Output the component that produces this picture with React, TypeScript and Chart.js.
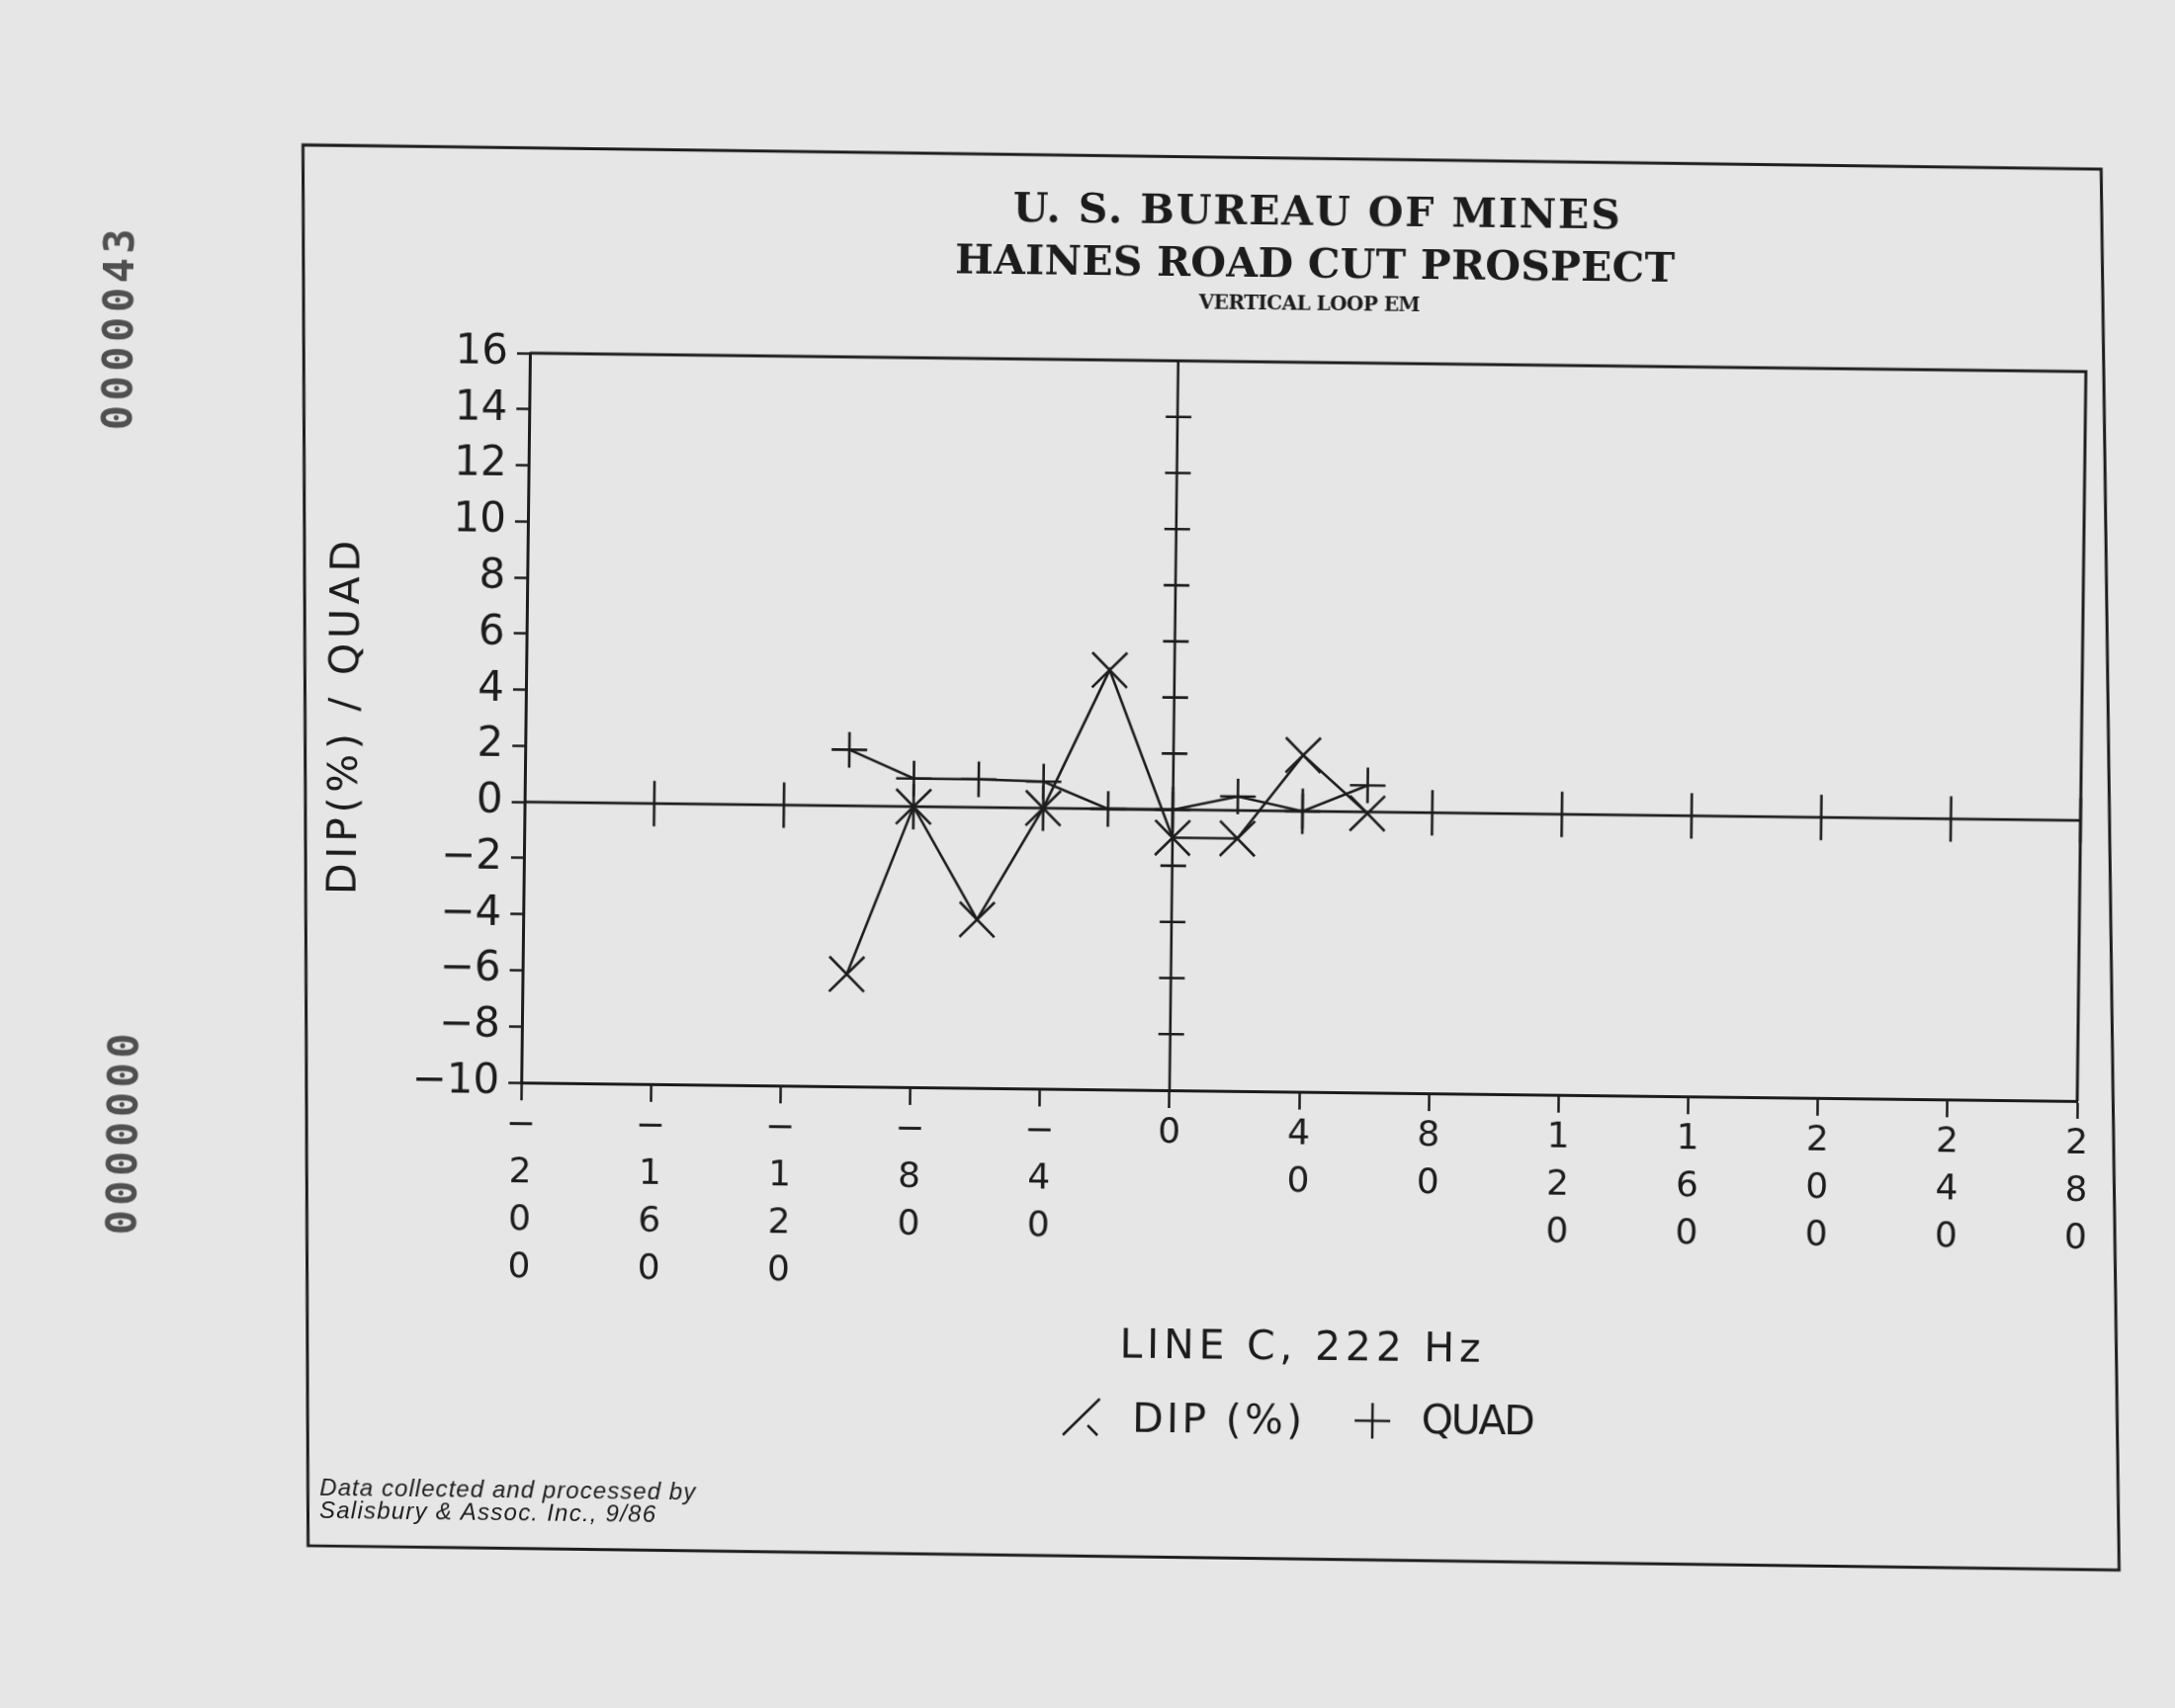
import React, { useEffect, useRef } from 'react';
import { Chart, registerables } from 'chart.js';

Chart.register(...registerables);

// ---------------- data ----------------
const stations = [-100, -80, -60, -40, -20, 0, 20, 40, 60];
const dipValues = [-6.0, 0.0, -4.0, 0.0, 4.95, -1.0, -1.0, 2.0, -0.05];
const quadValues = [2.0, 1.0, 1.0, 0.95, 0.0, 0.0, 0.5, 0.0, 0.95];
const xTickValues = [-200, -160, -120, -80, -40, 0, 40, 80, 120, 160, 200, 240, 280];
const yTickValues = [-10, -8, -6, -4, -2, 0, 2, 4, 6, 8, 10, 12, 14, 16];

const titleLines = ['U. S. BUREAU OF MINES', 'HAINES ROAD CUT PROSPECT'];
const subtitle = 'VERTICAL LOOP EM';
const yAxisTitle = 'DIP(%) / QUAD';
const xAxisTitle = 'LINE C, 222 Hz';
const legendDip = 'DIP (%)';
const legendQuad = 'QUAD';
const footnoteLines = ['Data collected and processed by', 'Salisbury & Assoc. Inc., 9/86'];
const marginIds = ['0000043', '0000000'];

// ---------------- style ----------------
const INK = '#1c1c1c';
const PAPER = '#e6e6e6';
const PLOT = '"DejaVu Sans", "Liberation Sans", sans-serif';
const SANS = '"Liberation Sans", Arial, sans-serif';
const SERIF = '"DejaVu Serif", "Liberation Serif", serif';

function fitText(
  ctx: CanvasRenderingContext2D,
  text: string,
  cx: number,
  y: number,
  font: string,
  width: number
) {
  ctx.save();
  ctx.font = font;
  (ctx as any).letterSpacing = '0px';
  const w = ctx.measureText(text).width;
  const n = Array.from(text).length;
  const ls = n > 1 ? (width - w) / (n - 1) : 0;
  (ctx as any).letterSpacing = ls + 'px';
  ctx.textAlign = 'left';
  ctx.fillText(text, cx - width / 2, y);
  ctx.restore();
}

const paperPlugin = {
  id: 'paperDecor',
  afterDraw(chart: any) {
    const { ctx, chartArea: a, scales } = chart;
    const xs = scales.x;
    const ys = scales.y;
    ctx.save();
    ctx.strokeStyle = INK;
    ctx.fillStyle = INK;
    ctx.lineCap = 'butt';

    // plot frame: top and right
    ctx.lineWidth = 3;
    ctx.beginPath();
    ctx.moveTo(a.left, a.top);
    ctx.lineTo(a.right, a.top);
    ctx.lineTo(a.right, a.bottom);
    ctx.stroke();

    // zero line with crossing ticks
    const y0 = ys.getPixelForValue(0);
    ctx.lineWidth = 2.6;
    ctx.beginPath();
    ctx.moveTo(a.left, y0);
    ctx.lineTo(a.right, y0);
    xTickValues.forEach((v) => {
      if (v === xTickValues[0]) return;
      const px = xs.getPixelForValue(v);
      ctx.moveTo(px, y0 - 23);
      ctx.lineTo(px, y0 + 23);
    });
    ctx.stroke();

    // central vertical axis at x = 0 with crossing ticks
    const x0 = xs.getPixelForValue(0);
    ctx.beginPath();
    ctx.moveTo(x0, a.top);
    ctx.lineTo(x0, a.bottom);
    yTickValues.forEach((v) => {
      if (v === yTickValues[0] || v === yTickValues[yTickValues.length - 1] || v === 0) return;
      const py = ys.getPixelForValue(v);
      ctx.moveTo(x0 - 12, py);
      ctx.lineTo(x0 + 14, py);
    });
    ctx.stroke();

    // outer page frame (slightly skewed like the scan)
    ctx.lineWidth = 3;
    ctx.beginPath();
    ctx.moveTo(298, 156);
    ctx.lineTo(2117, 159);
    ctx.lineTo(2152, 1576);
    ctx.lineTo(320, 1573);
    ctx.closePath();
    ctx.stroke();

    // titles
    ctx.textBaseline = 'alphabetic';
    fitText(ctx, titleLines[0], 1324, 225, `bold 41px ${SERIF}`, 614);
    fitText(ctx, titleLines[1], 1323, 278, `bold 41px ${SERIF}`, 728);
    fitText(ctx, subtitle, 1318, 311, `bold 20px ${SERIF}`, 224);

    // y axis title (rotated)
    ctx.save();
    ctx.translate(360, 735);
    ctx.rotate(-Math.PI / 2);
    fitText(ctx, yAxisTitle, 0, 0, `normal 41px ${PLOT}`, 358);
    ctx.restore();

    // x axis title
    fitText(ctx, xAxisTitle, 1321, 1373, `normal 41px ${PLOT}`, 365);

    // legend
    ctx.lineWidth = 2.5;
    ctx.beginPath();
    ctx.moveTo(1082, 1452);
    ctx.lineTo(1119, 1415);
    ctx.moveTo(1107, 1442);
    ctx.lineTo(1117, 1452);
    ctx.stroke();
    fitText(ctx, legendDip, 1152 + 86, 1448, `normal 41px ${PLOT}`, 172);
    ctx.beginPath();
    ctx.moveTo(1377, 1434);
    ctx.lineTo(1413, 1434);
    ctx.moveTo(1395, 1416);
    ctx.lineTo(1395, 1452);
    ctx.stroke();
    fitText(ctx, legendQuad, 1444 + 58, 1446, `normal 41px ${PLOT}`, 115);

    // footnote
    fitText(ctx, footnoteLines[0], 331 + 190, 1522, `italic 24px ${SANS}`, 380);
    fitText(ctx, footnoteLines[1], 331 + 170, 1545, `italic 24px ${SANS}`, 340);

    // margin ids (rotated, reading bottom to top)
    ctx.fillStyle = '#505050';
    ctx.save();
    ctx.translate(128, 345);
    ctx.rotate(-Math.PI / 2);
    fitText(ctx, marginIds[0], 0, 0, `bold 42px "DejaVu Sans Mono", monospace`, 204);
    ctx.restore();
    ctx.save();
    ctx.translate(142, 1159);
    ctx.rotate(-Math.PI / 2);
    fitText(ctx, marginIds[1], 0, 0, `bold 42px "DejaVu Sans Mono", monospace`, 204);
    ctx.restore();

    ctx.restore();
  },
};

function xLabel(v: number): string[] {
  const s = v < 0 ? '\u2212' + Math.abs(v) : String(v);
  return Array.from(s);
}

function yLabel(v: number): string {
  return v < 0 ? '\u2212' + Math.abs(v) : String(v);
}

export default function App() {
  const canvasRef = useRef<HTMLCanvasElement | null>(null);

  useEffect(() => {
    document.body.style.margin = '0';
    document.body.style.background = PAPER;
    document.documentElement.style.background = PAPER;
    const canvas = canvasRef.current;
    if (!canvas) return;
    const chart = new Chart(canvas, {
      type: 'scatter',
      data: {
        datasets: [
          {
            label: legendDip,
            data: stations.map((s, i) => ({ x: s, y: dipValues[i] })),
            showLine: true,
            borderColor: INK,
            backgroundColor: INK,
            borderWidth: 2.6,
            pointStyle: 'crossRot',
            pointRadius: 25,
            pointBorderWidth: 2.6,
            pointBorderColor: INK,
            tension: 0,
            fill: false,
          },
          {
            label: legendQuad,
            data: stations.map((s, i) => ({ x: s, y: quadValues[i] })),
            showLine: true,
            borderColor: INK,
            backgroundColor: INK,
            borderWidth: 2.6,
            pointStyle: 'cross',
            pointRadius: 18,
            pointBorderWidth: 2.6,
            pointBorderColor: INK,
            tension: 0,
            fill: false,
          },
        ],
      },
      options: {
        responsive: false,
        animation: false,
        devicePixelRatio: 1,
        layout: { padding: { left: 0, top: 364, right: 96, bottom: 0 } },
        plugins: {
          legend: { display: false },
          tooltip: { enabled: false },
          title: { display: false },
        },
        scales: {
          x: {
            type: 'linear',
            min: -200,
            max: 280,
            afterBuildTicks: (s: any) => {
              s.ticks = xTickValues.map((v) => ({ value: v }));
            },
            afterFit: (s: any) => {
              s.height = 626;
            },
            grid: {
              drawOnChartArea: false,
              drawTicks: true,
              tickLength: 18,
              tickWidth: 2.5,
              tickColor: INK,
            },
            border: { display: true, color: INK, width: 3 },
            ticks: {
              callback: (v: any) => xLabel(Number(v)),
              font: { family: PLOT, size: 36, lineHeight: 1.33 },
              color: INK,
              padding: 2,
              maxRotation: 0,
              minRotation: 0,
              autoSkip: false,
            },
          },
          y: {
            type: 'linear',
            min: -10,
            max: 16,
            afterBuildTicks: (s: any) => {
              s.ticks = yTickValues.map((v) => ({ value: v }));
            },
            afterFit: (s: any) => {
              s.width = 530;
            },
            grid: {
              drawOnChartArea: false,
              drawTicks: true,
              tickLength: 13,
              tickWidth: 2.5,
              tickColor: INK,
            },
            border: { display: true, color: INK, width: 3 },
            ticks: {
              callback: (v: any) => yLabel(Number(v)),
              font: { family: PLOT, size: 42 },
              color: INK,
              padding: 9,
              autoSkip: false,
            },
          },
        },
      },
      plugins: [paperPlugin],
    } as any);
    return () => chart.destroy();
  }, []);

  return (
    <div
      style={{
        position: 'fixed',
        left: 0,
        top: 0,
        width: 2200,
        height: 1728,
        background: PAPER,
        overflow: 'hidden',
      }}
    >
      <canvas
        ref={canvasRef}
        width={2200}
        height={1728}
        style={{
          position: 'absolute',
          left: 0,
          top: 0,
          width: 2200,
          height: 1728,
          transform: 'rotate(0.68deg)',
          transformOrigin: '1100px 864px',
        }}
      />
    </div>
  );
}
